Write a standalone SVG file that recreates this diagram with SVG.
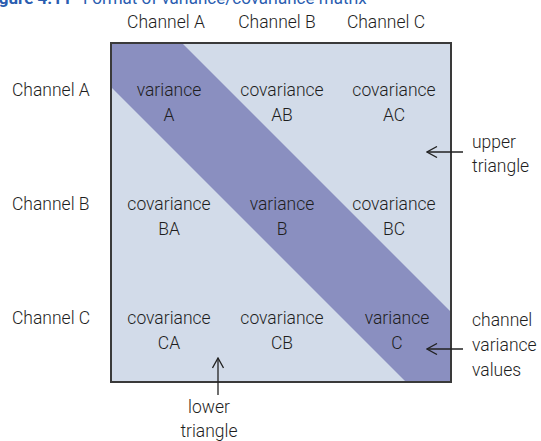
<svg xmlns="http://www.w3.org/2000/svg" width="541" height="441" viewBox="0 0 541 441">
<defs>
<style>
.t{font-family:Roboto,"Liberation Sans",sans-serif;font-weight:300;font-size:17.5px;fill:#1e1e1e}
.c{text-anchor:middle}
.title{font-family:Roboto,"Liberation Sans",sans-serif;font-size:17px;fill:#2a5db0}
.arr{stroke:#222;stroke-width:1.3;fill:none}
</style>
<marker id="ah" viewBox="0 0 12 12" refX="11" refY="6" markerWidth="12" markerHeight="12" markerUnits="userSpaceOnUse" orient="auto">
<path d="M1,0.5 L11,6 L1,11.5" fill="none" stroke="#222" stroke-width="1.3"/>
</marker>
<clipPath id="sq"><rect x="111" y="43" width="340" height="339"/></clipPath>
</defs>
<rect width="541" height="441" fill="#fff"/>
<text class="title" x="-15" y="4"><tspan font-weight="700">Figure 4.11</tspan><tspan x="83">Format of variance/covariance matrix</tspan></text>
<g id="matrix">
<rect x="111" y="43" width="340" height="339" fill="#d2dbe9"/>
<polygon clip-path="url(#sq)" points="111,43 182,43 451,312 451,382 406,382 111,87" fill="#8a8fc0"/>
<rect x="111" y="43" width="340" height="339" fill="none" stroke="#3a3a3a" stroke-width="2"/>
</g>
<g id="col-headers" class="t c">
<text x="166" y="28">Channel A</text>
<text x="277" y="28">Channel B</text>
<text x="386" y="28">Channel C</text>
</g>
<g id="row-headers" class="t">
<text x="12" y="96">Channel A</text>
<text x="12" y="210">Channel B</text>
<text x="12" y="324">Channel C</text>
</g>
<g id="cell-AA" class="t c"><text x="169" y="96">variance</text><text x="169" y="121">A</text></g>
<g id="cell-AB" class="t c"><text x="282" y="96">covariance</text><text x="282" y="121">AB</text></g>
<g id="cell-AC" class="t c"><text x="394" y="96">covariance</text><text x="394" y="121">AC</text></g>
<g id="cell-BA" class="t c"><text x="169" y="210">covariance</text><text x="169" y="235">BA</text></g>
<g id="cell-BB" class="t c"><text x="282" y="210">variance</text><text x="282" y="235">B</text></g>
<g id="cell-BC" class="t c"><text x="394" y="210">covariance</text><text x="394" y="235">BC</text></g>
<g id="cell-CA" class="t c"><text x="169" y="324">covariance</text><text x="169" y="349">CA</text></g>
<g id="cell-CB" class="t c"><text x="282" y="324">covariance</text><text x="282" y="349">CB</text></g>
<g id="cell-CC" class="t c"><text x="397" y="324">variance</text><text x="397" y="349">C</text></g>
<g id="label-upper" class="t"><text x="472" y="148">upper</text><text x="472" y="172">triangle</text></g>
<g id="label-channel" class="t"><text x="472" y="326">channel</text><text x="472" y="351">variance</text><text x="472" y="376">values</text></g>
<g id="label-lower" class="t c"><text x="209" y="413">lower</text><text x="209" y="437">triangle</text></g>
<g id="connectors">
<line class="arr" x1="463" y1="152" x2="427" y2="152" marker-end="url(#ah)"/>
<line class="arr" x1="463" y1="349" x2="427" y2="349" marker-end="url(#ah)"/>
<line class="arr" x1="218" y1="395" x2="218" y2="358" marker-end="url(#ah)"/>
</g>
</svg>
